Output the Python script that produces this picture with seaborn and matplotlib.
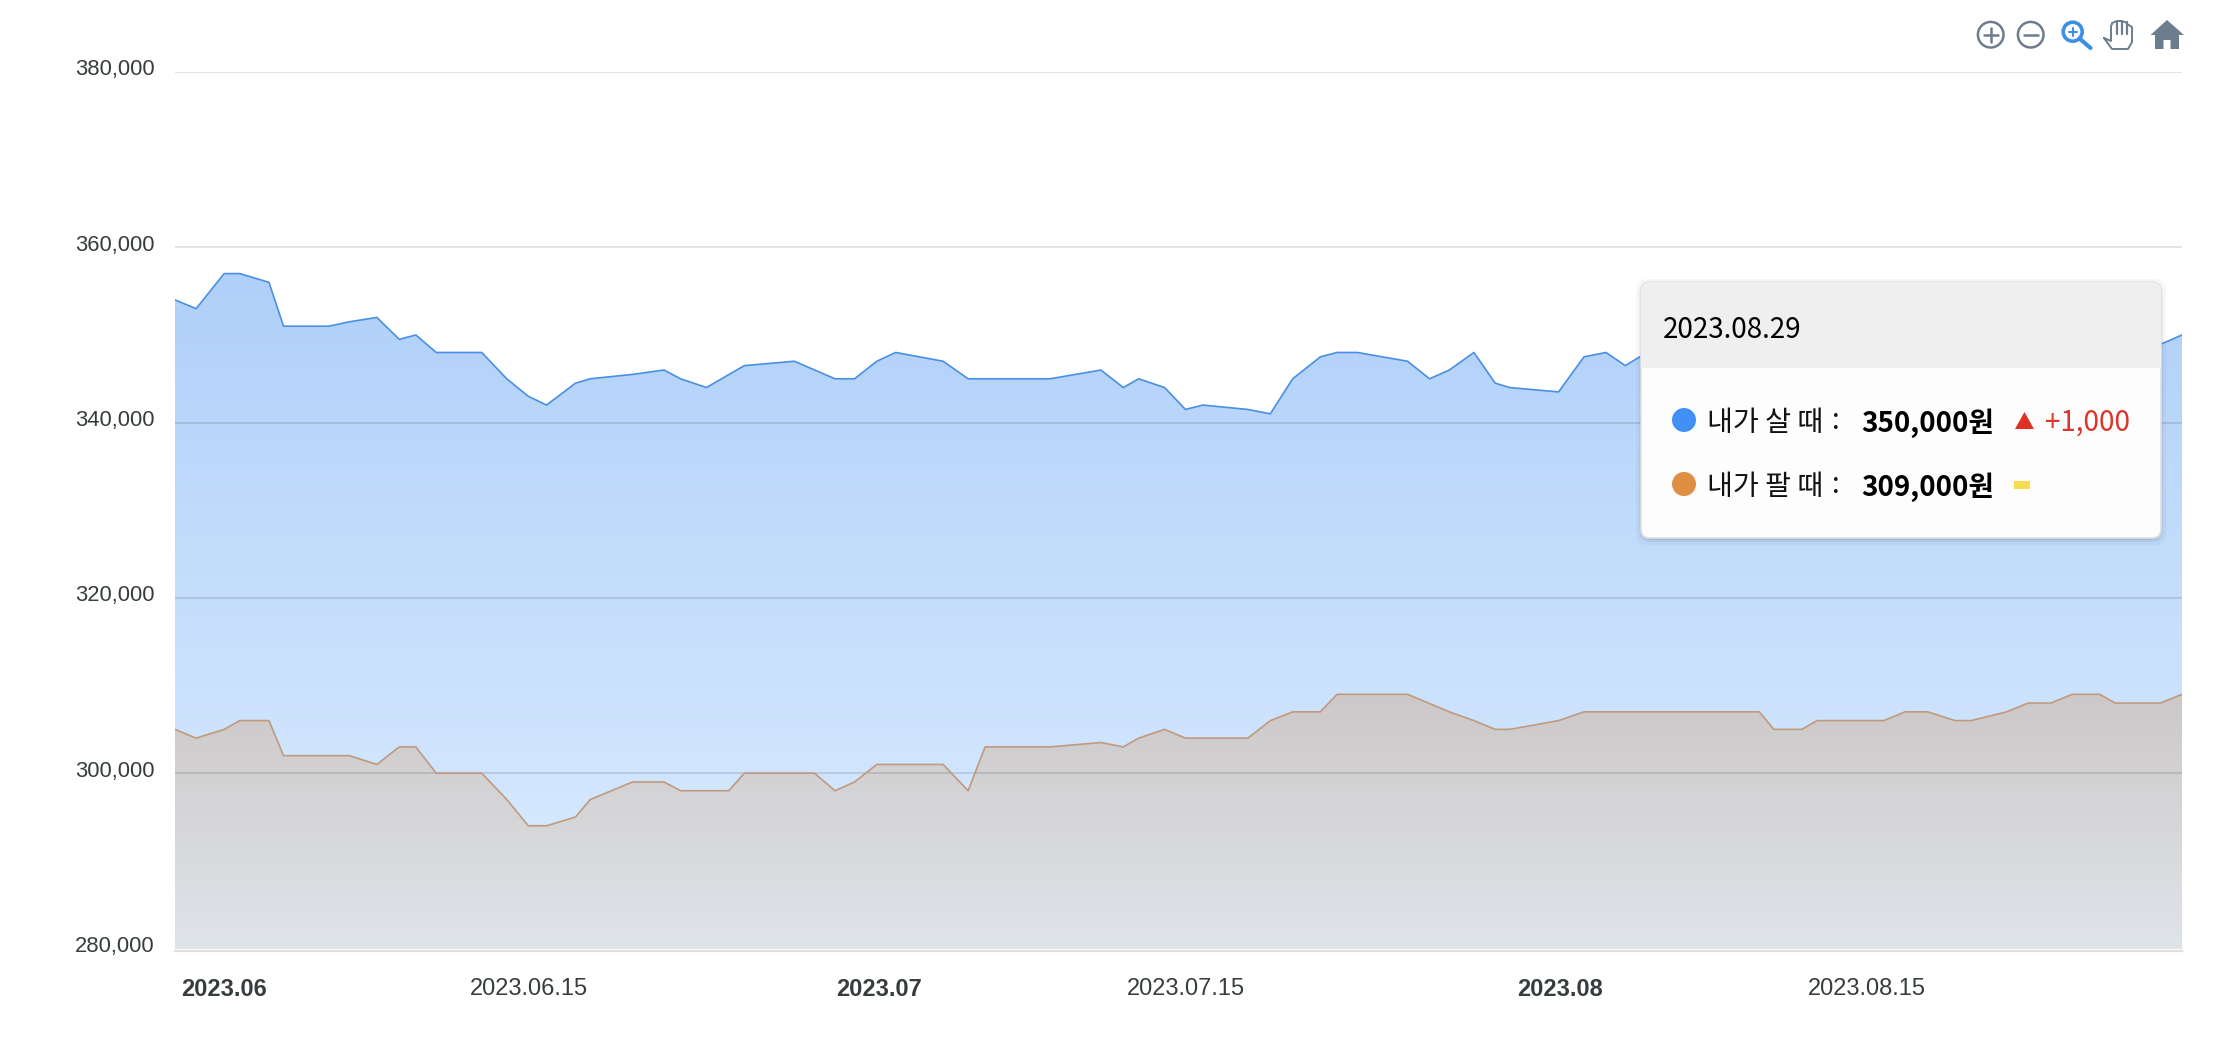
import matplotlib
matplotlib.use('Agg')
import matplotlib.pyplot as plt
from matplotlib.patches import Circle, FancyBboxPatch, Polygon, Rectangle
from matplotlib.transforms import ScaledTranslation
import numpy as np
import pandas as pd
import seaborn as sns

# days counted from 2023.06.01 (the spacing is irregular)
buy_days = [-2.26, -1.29, 0, 0.72, 2.06, 2.73, 4.82, 5.75, 7.02, 8.05, 8.81, 9.75, 11.84, 12.99, 13.98,
            14.82, 16.15, 16.83, 18.78, 20.22, 20.98, 22.17, 23.91, 26.21, 28.08, 28.98, 30.0, 30.87,
            33.05, 34.20, 37.98, 40.30, 41.33, 42.04, 43.23, 44.19, 44.99, 47.06, 48.09, 49.12, 50.39,
            51.16, 52.10, 54.40, 55.41, 56.32, 57.45, 58.43, 59.09, 61.34, 62.51, 63.52, 64.41, 65.07,
            67.83, 70.59, 73.80, 77.03, 80.24, 83.46, 86.22, 89.08, 90.0]
buy_prices = [354000, 353000, 357000, 357000, 356000, 351000, 351000, 351500, 352000, 349500, 350000,
              348000, 348000, 345000, 343000, 342000, 344500, 345000, 345500, 346000, 345000, 344000,
              346500, 347000, 345000, 345000, 347000, 348000, 347000, 345000, 345000, 346000, 344000,
              345000, 344000, 341500, 342000, 341500, 341000, 345000, 347500, 348000, 348000, 347000,
              345000, 346000, 348000, 344500, 344000, 343500, 347500, 348000, 346500, 347500,
              # the stretch below sits behind the tooltip, rough guess
              348500, 348000, 349000, 349500, 349000, 349500, 348500, 349000, 350000]

sell_days = [-2.26, -1.29, 0, 0.72, 2.06, 2.73, 5.75, 7.02, 8.05, 8.81, 9.75, 11.84, 12.99, 13.98, 14.82,
             16.15, 16.83, 18.78, 20.22, 20.98, 23.20, 23.91, 27.14, 28.08, 28.98, 30.0, 33.05, 34.20,
             34.98, 37.98, 40.30, 41.33, 42.04, 43.23, 44.19, 47.06, 48.09, 49.12, 50.39, 51.16, 54.40,
             56.32, 57.45, 58.43, 59.09, 61.34, 62.51, 70.57, 71.24, 72.52, 73.23, 76.29, 77.27, 78.31,
             79.57, 80.30, 81.94, 82.92, 83.97, 84.95, 86.21, 86.94, 89.0, 90.0]
sell_prices = [305000, 304000, 305000, 306000, 306000, 302000, 302000, 301000, 303000, 303000, 300000,
               300000, 297000, 294000, 294000, 295000, 297000, 299000, 299000, 298000, 298000, 300000,
               300000, 298000, 299000, 301000, 301000, 298000, 303000, 303000, 303500, 303000, 304000,
               305000, 304000, 304000, 306000, 307000, 307000, 309000, 309000, 307000, 306000, 305000,
               305000, 306000, 307000, 307000, 305000, 305000, 306000, 306000, 307000, 307000, 306000,
               306000, 307000, 308000, 308000, 309000, 309000, 308000, 308000, 309000]

y_ticks = [280000, 300000, 320000, 340000, 360000, 380000]
x_ticks = [0, 14.0, 30.1, 44.2, 61.4, 75.5]
x_tick_labels = ['2023.06', '2023.06.15', '2023.07', '2023.07.15', '2023.08', '2023.08.15']
month_labels = ['2023.06', '2023.07', '2023.08']

tooltip_date = '2023.08.29'
tooltip_names = ['내가 살 때', '내가 팔 때']
tooltip_values = ['350,000원', '309,000원']
tooltip_change = '+1,000'

W, H = 2214, 1046
TXT_FONT = 'Liberation Sans'
KR_FONT = ['Noto Sans CJK KR', 'DejaVu Sans']
GRAY = '#6d7c8e'

sns.set_theme(style='white')
plt.rcParams['font.family'] = [TXT_FONT, 'DejaVu Sans']

fig = plt.figure(figsize=(W / 100, H / 100), dpi=100, facecolor='white')
top, bottom = 72.0, 948.5
ax = fig.add_axes([175 / W, 1 - bottom / H, (2182 - 175) / W, (bottom - top) / H])

buy = pd.DataFrame({'day': buy_days, 'price': buy_prices})
sell = pd.DataFrame({'day': sell_days, 'price': sell_prices})
xlim = (-2.26, 90.0)
ylim = (280000, 380000)


def gradient_area(df, top_val, top_col, bottom_col, zorder):
    # vertical gradient image clipped to the area under the line
    poly = ax.fill_between(df['day'], df['price'], ylim[0], color='none', lw=0)
    c0, c1 = matplotlib.colors.to_rgb(top_col), matplotlib.colors.to_rgb(bottom_col)
    t = np.linspace(0, 1, 256)[:, None, None]
    img = (1 - t) * np.array(c0)[None, None, :] + t * np.array(c1)[None, None, :]
    im = ax.imshow(img, extent=(xlim[0], xlim[1], ylim[0], top_val), aspect='auto',
                   interpolation='bilinear', zorder=zorder)
    im.set_clip_path(poly.get_paths()[0], transform=ax.transData)


gradient_area(buy, 357000, '#b0d0f9', '#dcedff', 1)
gradient_area(sell, 309000, '#cdc8c8', '#dfe4e9', 2)

ax.set_axisbelow(False)
for v in y_ticks:
    ax.axhline(v, color='black', alpha=0.115, lw=1.4, zorder=3)

sns.lineplot(data=buy, x='day', y='price', ax=ax, color='#4a8fe3', lw=1.2, sort=False,
             estimator=None, zorder=4)
sns.lineplot(data=sell, x='day', y='price', ax=ax, color='#c09a7e', lw=1.2, sort=False,
             estimator=None, zorder=5)

ax.set_xlim(*xlim)
ax.set_ylim(*ylim)
ax.set_xlabel('')
ax.set_ylabel('')
ax.set_yticks(y_ticks)
ax.set_yticklabels([f'{v:,}' for v in y_ticks], fontsize=15.8, color='#373d3f')
ax.set_xticks(x_ticks)
ax.set_xticklabels(x_tick_labels)
ax.tick_params(axis='both', length=0)
ax.tick_params(axis='y', pad=14.5)
ax.tick_params(axis='x', pad=20, labelsize=17, labelcolor='#373d3f')
for side in ['top', 'left', 'right']:
    ax.spines[side].set_visible(False)
ax.spines['bottom'].set_color('#e0e0e0')
ax.spines['bottom'].set_linewidth(1.6)
ax.spines['bottom'].set_position(('outward', 1.5))

# tick labels keep their settings only once the ticks exist
fig.canvas.draw()
for lab in ax.get_xticklabels():
    lab.set_fontsize(17)
    if lab.get_text() in month_labels:
        lab.set_fontweight('bold')
up = ScaledTranslation(0, 4.5 / 100, fig.dpi_scale_trans)
for lab in ax.get_yticklabels():
    lab.set_transform(lab.get_transform() + up)

# overlay in pixel coordinates for the tooltip and the toolbar icons
ov = fig.add_axes([0, 0, 1, 1], facecolor='none')
ov.set_xlim(0, W)
ov.set_ylim(H, 0)
ov.axis('off')

# tooltip
bx, by, bw, bh = 1641, 282, 520, 256
for off, a in [(7, 0.03), (4, 0.05), (2, 0.07)]:
    ov.add_patch(FancyBboxPatch((bx - off + 2, by - off + 4), bw + 2 * off - 4, bh + 2 * off - 4,
                                boxstyle='round,pad=0,rounding_size=12', fc='black', ec='none', alpha=a))
box = FancyBboxPatch((bx, by), bw, bh, boxstyle='round,pad=0,rounding_size=9',
                     fc='#fdfdfe', ec='#dfe0e2', lw=1.2, zorder=6)
ov.add_patch(box)
head = Rectangle((bx, by), bw, 86, fc='#efefef', ec='none', zorder=7)
ov.add_patch(head)
head.set_clip_path(box)
ov.text(1663, 330, tooltip_date, fontsize=20, family=KR_FONT, color='black', va='center', zorder=8)

rows_y = [420, 484]
dots = ['#4090f6', '#e08e42']
for y, dot, name, value in zip(rows_y, dots, tooltip_names, tooltip_values):
    ov.add_patch(Circle((1684, y), 12, fc=dot, ec='none', zorder=8))
    ov.text(1707, y + 3, name, fontsize=20.3, family=KR_FONT, color='#111111', va='center', zorder=8)
    ov.text(1836, y + 1, ':', fontsize=20, family=KR_FONT, color='#111111', ha='center', va='center', zorder=8)
    ov.text(1861, y + 3, value, fontsize=20, family=KR_FONT, fontweight='bold', color='black',
            va='center', zorder=8)
ov.add_patch(Polygon([(2015, 429), (2034, 429), (2024.5, 412)], fc='#e03224', ec='none', zorder=8))
ov.text(2045, 423, tooltip_change, fontsize=20, family=KR_FONT, color='#d9362c', va='center', zorder=8)
ov.add_patch(Rectangle((2014, 481), 16, 8, fc='#f9dc4e', ec='none', zorder=8))

# toolbar: zoom in, zoom out
for cx, plus in [(1990.7, True), (2030.7, False)]:
    ov.add_patch(Circle((cx, 34.7), 12.8, fc='none', ec=GRAY, lw=1.8))
    ov.plot([cx - 7, cx + 7], [34.7, 34.7], color=GRAY, lw=1.8)
    if plus:
        ov.plot([cx, cx], [27.7, 41.7], color=GRAY, lw=1.8)

# toolbar: selection zoom
ov.add_patch(Circle((2072.7, 31.7), 9.5, fc='none', ec='#3d8fe6', lw=2.6))
ov.plot([2079.5, 2090.5], [38.5, 48], color='#3d8fe6', lw=3)
ov.plot([2068.5, 2077], [31.7, 31.7], color='#3d8fe6', lw=1.5)
ov.plot([2072.7, 2072.7], [27.5, 36], color='#3d8fe6', lw=1.5)

# toolbar: pan hand
hand_x = [2104, 2111, 2111, 2112, 2112, 2117, 2117, 2122, 2122, 2127, 2127, 2132, 2132, 2128, 2112, 2104]
hand_y = [38, 41, 26, 24, 23, 21, 21, 21, 21, 23, 24, 27, 42, 49, 49, 38]
ov.plot(hand_x, hand_y, color=GRAY, lw=1.4)
for hx in [2117, 2122, 2127]:
    ov.plot([hx, hx], [22, 34], color=GRAY, lw=1.6)

# toolbar: home
ov.add_patch(Polygon([(2150.5, 35), (2167, 20), (2184, 35), (2179, 35), (2179, 49), (2170.5, 49),
                      (2170.5, 40), (2163.5, 40), (2163.5, 49), (2155, 49), (2155, 35)],
                     fc=GRAY, ec='none'))

fig.savefig('out.png', dpi=100)
